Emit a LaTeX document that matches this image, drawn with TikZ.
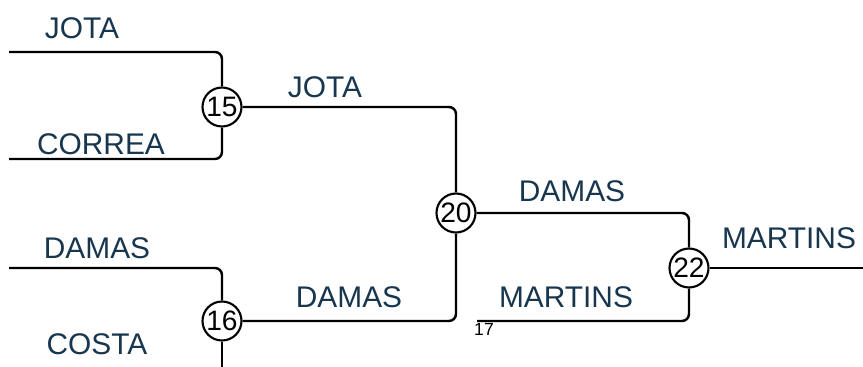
\documentclass[tikz,border=0pt]{standalone}
\usepackage{fontspec}
\setmainfont{Liberation Sans}
\usepackage{tikz}
\definecolor{teamblue}{RGB}{24,54,78}

\begin{document}
\begin{tikzpicture}[x=0.02cm,y=-0.02cm,
	matchnode/.style={circle, draw=black, line width=1.2pt, fill=white, minimum size=0.78cm, inner sep=0pt, font=\fontsize{16}{16}\selectfont},
	teamlabel/.style={text=teamblue, inner sep=0pt, font=\fontsize{17}{17}\selectfont},
	wire/.style={line width=1.4pt, rounded corners=4pt},
	]
	\useasboundingbox (0,0) rectangle (863,367);
	%Nodes
	\node[matchnode]      (m15) 	at 	(222,107)       {15};
	\node[matchnode]      (m16) 	at 	(222,321)       {16};
	\node[matchnode]      (m20) 	at 	(456,213)       {20};
	\node[matchnode]      (m22) 	at 	(689,268)       {22};
	\coordinate           (e1) 	at 	(9,52);
	\coordinate           (e2) 	at 	(9,159);
	\coordinate           (e3) 	at 	(9,268);
	\coordinate           (e4) 	at 	(222,367);
	\coordinate           (e5) 	at 	(477,321);
	\coordinate           (e6) 	at 	(863,268);
	%Labels
	\node[teamlabel]      (t1) 	at 	(82,28)         {JOTA};
	\node[teamlabel]      (t2) 	at 	(101,144)       {CORREA};
	\node[teamlabel]      (t3) 	at 	(97,248)        {DAMAS};
	\node[teamlabel]      (t4) 	at 	(97,344)        {COSTA};
	\node[teamlabel]      (t5) 	at 	(325,87)        {JOTA};
	\node[teamlabel]      (t6) 	at 	(349,297)       {DAMAS};
	\node[teamlabel]      (t7) 	at 	(572,191)       {DAMAS};
	\node[teamlabel]      (t8) 	at 	(566,297)       {MARTINS};
	\node[teamlabel]      (t9) 	at 	(789,238)       {MARTINS};
	\node[font=\fontsize{10}{10}\selectfont, inner sep=0pt] (n17) at (484,329) {17};
	%Wires
	\draw[wire] (e1) -| (m15);
	\draw[wire] (e2) -| (m15);
	\draw[wire] (e3) -| (m16);
	\draw[wire] (m16) -- (e4);
	\draw[wire] (m15) -| (m20);
	\draw[wire] (m16) -| (m20);
	\draw[wire] (m20) -| (m22);
	\draw[wire] (e5) -| (m22);
	\draw[wire] (m22) -- (e6);
\end{tikzpicture}
\end{document}
